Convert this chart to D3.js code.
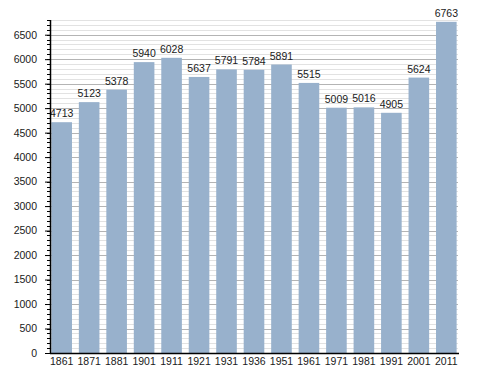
<!DOCTYPE html>
<html>
<head>
<meta charset="utf-8">
<script src="https://cdn.jsdelivr.net/npm/d3@7"></script>
<style>
  body { margin: 0; background: #fff; }
  text { font-family: "Liberation Sans", Arial, sans-serif; font-size: 10.5px; fill: #1a1a1a; }
</style>
</head>
<body>
<svg width="488" height="373"></svg>
<script>
// census years and population
const years = ["1861", "1871", "1881", "1901", "1911", "1921", "1931", "1936", "1951", "1961", "1971", "1981", "1991", "2001", "2011"];
const population = [4713, 5123, 5378, 5940, 6028, 5637, 5791, 5784, 5891, 5515, 5009, 5016, 4905, 5624, 6763];
const yTicks = [0, 500, 1000, 1500, 2000, 2500, 3000, 3500, 4000, 4500, 5000, 5500, 6000, 6500];
const yMax = 6800;

const svg = d3.select("svg");
const plotLeft = 50, plotRight = 458, plotTop = 20, plotBottom = 353;

const x = d3.scaleBand()
    .domain(years)
    .range([plotLeft, plotRight])
    .paddingInner(0.25)
    .paddingOuter(0.05);

const y = d3.scaleLinear()
    .domain([0, yMax])
    .range([plotBottom, plotTop]);

// minor grid every 100
const minor = d3.range(100, yMax + 1, 100).filter(v => v % 500 != 0);
svg.append("g")
    .selectAll("line")
    .data(minor)
    .enter().append("line")
        .attr("x1", plotLeft).attr("x2", plotRight)
        .attr("y1", d => Math.round(y(d)) + 0.5)
        .attr("y2", d => Math.round(y(d)) + 0.5)
        .style("stroke", "#e2e2e2");

// major grid every 500
svg.append("g")
    .selectAll("line")
    .data(yTicks.filter(v => v > 0))
    .enter().append("line")
        .attr("x1", plotLeft).attr("x2", plotRight)
        .attr("y1", d => Math.round(y(d)) + 0.5)
        .attr("y2", d => Math.round(y(d)) + 0.5)
        .style("stroke", "#b4b4b4");

// bars
svg.append("g")
    .selectAll("rect")
    .data(population)
    .enter().append("rect")
        .attr("x", (d, i) => x(years[i]))
        .attr("width", x.bandwidth())
        .attr("y", d => y(d))
        .attr("height", d => plotBottom - y(d))
        .style("fill", "#98b1cc");

// value labels
svg.append("g")
    .selectAll("text")
    .data(population)
    .enter().append("text")
        .attr("x", (d, i) => x(years[i]) + x.bandwidth() / 2)
        .attr("y", d => y(d) - 5)
        .attr("text-anchor", "middle")
        .text(d => d);

// y axis: minor ticks, then major ticks with labels
const minorTicks = d3.range(0, yMax + 1, 100);
svg.append("g")
    .selectAll("line")
    .data(minorTicks)
    .enter().append("line")
        .attr("x1", plotLeft - 3).attr("x2", plotLeft)
        .attr("y1", d => Math.round(y(d)) + 0.5)
        .attr("y2", d => Math.round(y(d)) + 0.5)
        .style("stroke", "#000");

svg.append("g")
    .attr("transform", `translate(${plotLeft},0)`)
    .call(d3.axisLeft(y).tickValues(yTicks).tickSize(5).tickPadding(8).tickFormat(d => d))
    .call(g => g.select(".domain").remove())
    .call(g => g.selectAll("text").style("font-size", "10.5px").style("fill", "#1a1a1a").attr("font-family", null));

svg.append("line")
    .attr("x1", plotLeft + 0.5).attr("x2", plotLeft + 0.5)
    .attr("y1", plotTop).attr("y2", plotBottom + 1)
    .style("stroke", "#000").style("stroke-width", 1.5);

// x axis
svg.append("g")
    .attr("transform", `translate(0,${plotBottom})`)
    .call(d3.axisBottom(x).tickSize(0).tickPadding(5))
    .call(g => g.select(".domain").remove())
    .call(g => g.selectAll("text").style("font-size", "10.5px").style("fill", "#1a1a1a").attr("font-family", null));

svg.append("line")
    .attr("x1", plotLeft).attr("x2", plotRight + 1)
    .attr("y1", plotBottom + 0.5).attr("y2", plotBottom + 0.5)
    .style("stroke", "#000").style("stroke-width", 1.5);
</script>
</body>
</html>
